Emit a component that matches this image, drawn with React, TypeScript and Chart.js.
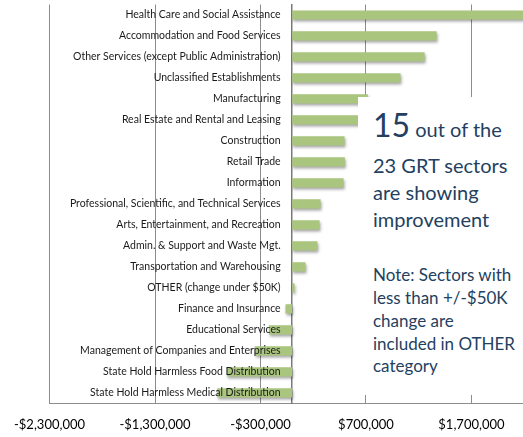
import React, { useEffect, useRef } from 'react';
import { Chart, registerables } from 'chart.js';

Chart.register(...registerables);

const categories = [
  'Health Care and Social Assistance',
  'Accommodation and Food Services',
  'Other Services (except Public Administration)',
  'Unclassified Establishments',
  'Manufacturing',
  'Real Estate and Rental and Leasing',
  'Construction',
  'Retail Trade',
  'Information',
  'Professional, Scientific, and Technical Services',
  'Arts, Entertainment, and Recreation',
  'Admin. & Support and Waste Mgt.',
  'Transportation and Warehousing',
  'OTHER (change under $50K)',
  'Finance and Insurance',
  'Educational Services',
  'Management of Companies and Enterprises',
  'State Hold Harmless Food Distribution',
  'State Hold Harmless Medical Distribution',
];

const changeValues = [
  2450000, 1370000, 1256000, 1028000, 718000, 680000, 497000, 500000, 488000,
  270000, 260000, 240000, 127000, 23000, -63000, -220000, -354000, -617000, -710000,
];

const tickValues = [-2300000, -1300000, -300000, 700000, 1700000];
const axisMin = -2300000;
const axisMax = 2900000;

const headlineCount = '15';
const headlineRest = ' out of the';
const headlineLines = ['23 GRT sectors', 'are showing', 'improvement'];
const noteLines = ['Note: Sectors with', 'less than +/-$50K', 'change are', 'included in OTHER', 'category'];

const fmtMoney = (v: number) =>
  (v < 0 ? '-' : '') + '$' + Math.abs(v).toLocaleString('en-US');

const shadowPlugin = {
  id: 'barShadow',
  beforeDatasetDraw(chart: any) {
    const ctx = chart.ctx;
    ctx.save();
    ctx.shadowColor = 'rgba(0,0,0,0.35)';
    ctx.shadowBlur = 3;
    ctx.shadowOffsetX = 1;
    ctx.shadowOffsetY = 2;
  },
  afterDatasetDraw(chart: any) {
    chart.ctx.restore();
  },
};

// Category labels drawn just left of the zero line
const zeroLabelsPlugin = {
  id: 'zeroLabels',
  afterDatasetsDraw(chart: any) {
    const ctx = chart.ctx;
    const xScale = chart.scales.x;
    const yScale = chart.scales.y;
    const x0 = xScale.getPixelForValue(0) - 11.5;
    ctx.save();
    ctx.font = '10.5px Lato';
    ctx.fillStyle = '#1a1a1a';
    ctx.textAlign = 'right';
    ctx.textBaseline = 'middle';
    categories.forEach((c, i) => {
      ctx.fillText(c, x0, yScale.getPixelForTick(i));
    });
    ctx.restore();
  },
};

export default function App() {
  const ref = useRef<HTMLCanvasElement | null>(null);

  useEffect(() => {
    document.body.style.margin = '0';
    const canvas = ref.current;
    if (!canvas) return;
    const chart = new Chart(canvas, {
      type: 'bar',
      data: {
        labels: categories,
        datasets: [
          {
            data: changeValues,
            backgroundColor: '#a9c57e',
            borderWidth: 0,
            categoryPercentage: 1,
            barPercentage: 0.44,
          },
        ],
      },
      options: {
        indexAxis: 'y',
        animation: false,
        responsive: false,
        devicePixelRatio: 1,
        layout: { padding: { left: 17.5, top: 4.5, right: 2, bottom: -10 } },
        plugins: {
          legend: { display: false },
          tooltip: { enabled: false },
        },
        scales: {
          x: {
            type: 'linear',
            min: axisMin,
            max: axisMax,
            afterBuildTicks: (scale: any) => {
              scale.ticks = tickValues.map((v) => ({ value: v }));
            },
            grid: {
              color: '#8c8c8c',
              lineWidth: 1,
              drawTicks: false,
            },
            border: { display: true, color: '#8c8c8c', width: 1 },
            ticks: {
              padding: 14,
              color: '#000',
              font: { family: 'Lato', size: 13 },
              maxRotation: 0,
              autoSkip: false,
              callback: (v: any) => fmtMoney(Number(v)),
            },
          },
          y: {
            type: 'category',
            position: { x: 0 } as any,
            grid: { display: false, drawTicks: false },
            border: { display: true, color: '#7a7a7a', width: 1.5 },
            ticks: { display: false },
          },
        },
      },
      plugins: [shadowPlugin, zeroLabelsPlugin],
    });
    return () => chart.destroy();
  }, []);

  const textColor = '#243f60';
  return (
    <div
      style={{
        position: 'fixed',
        left: 0,
        top: 0,
        width: 523,
        height: 437,
        overflow: 'hidden',
        background: '#fff',
        fontFamily: 'Lato, sans-serif',
      }}
    >
      <canvas ref={ref} width={600} height={437} style={{ width: 600, height: 437, display: 'block' }} />
      <div
        style={{
          position: 'absolute',
          left: 358,
          top: 97,
          width: 200,
          height: 298,
          background: '#fff',
        }}
      />
      <div
        style={{
          position: 'absolute',
          left: 373,
          top: 106,
          fontSize: 32,
          lineHeight: '38.4px',
          color: textColor,
          whiteSpace: 'nowrap',
        }}
      >
        {headlineCount}
        <span style={{ fontSize: 20 }}>{headlineRest}</span>
      </div>
      <div
        style={{
          position: 'absolute',
          left: 373,
          top: 151.5,
          fontSize: 20,
          lineHeight: '27px',
          color: textColor,
          whiteSpace: 'nowrap',
        }}
      >
        {headlineLines.map((l) => (
          <div key={l}>{l}</div>
        ))}
      </div>
      <div
        style={{
          position: 'absolute',
          left: 373,
          top: 264.4,
          fontSize: 17,
          lineHeight: '22.7px',
          color: textColor,
          whiteSpace: 'nowrap',
        }}
      >
        {noteLines.map((l) => (
          <div key={l}>{l}</div>
        ))}
      </div>
    </div>
  );
}
